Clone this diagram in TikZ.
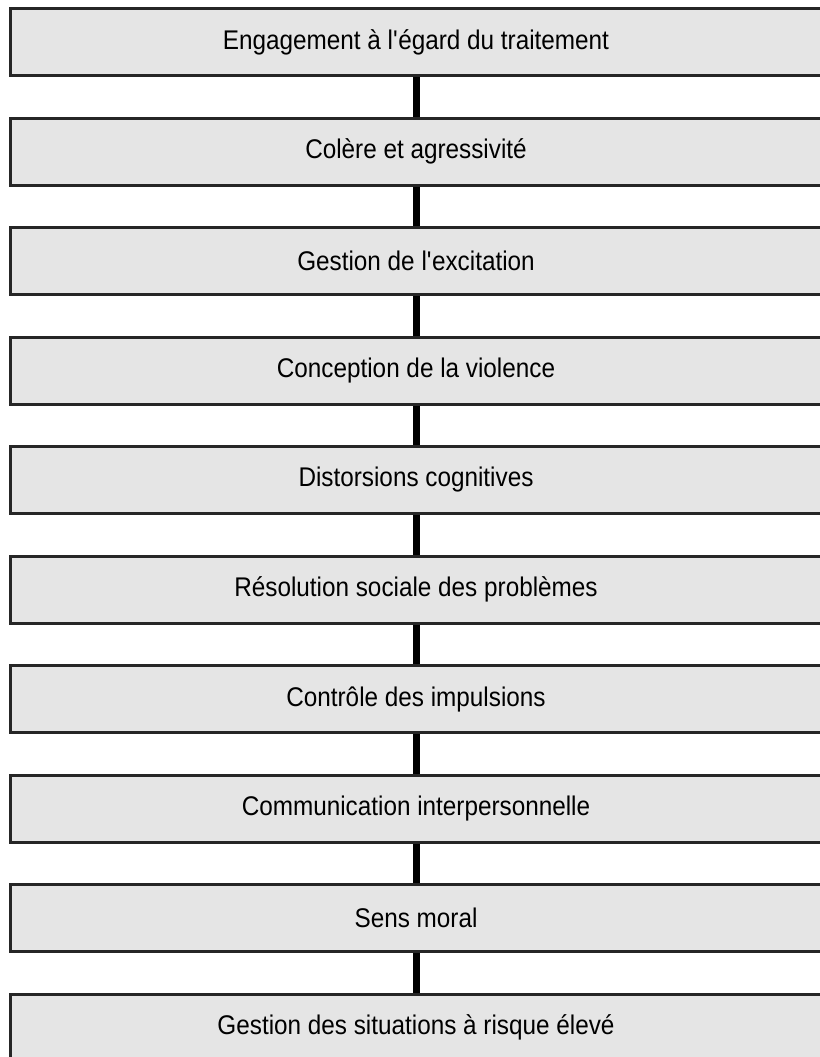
\documentclass[tikz,border=0pt]{standalone}
\usepackage{fontspec}
\setmainfont[FakeStretch=0.9]{Liberation Sans}
\usepackage{xcolor}
\usepackage{tikz}

\definecolor{boxgray}{RGB}{229,229,229}

\tikzset{
    module/.style={draw=black!85, fill=boxgray, line width=1.5pt, rectangle,
        minimum width=405.5pt, minimum height=33.5pt, inner sep=0pt,
        font=\fontsize{13.5}{15}\selectfont},
    link/.style={line width=3.5pt, black}
}

\begin{document}
\begin{tikzpicture}[x=0.5pt, y=-0.5pt]
    \useasboundingbox (0,0) rectangle (820,1057);
    \clip (0,0) rectangle (820,1057);

    % Modules
    \node[module] (engagement) at (416, 42) {Engagement à l\textquotesingle égard du traitement};
    \node[module] (colere) at (416, 151.5) {Colère et agressivité};
    \node[module] (excitation) at (416, 261) {Gestion de l\textquotesingle excitation};
    \node[module] (conception) at (416, 370.5) {Conception de la violence};
    \node[module] (distorsions) at (416, 480) {Distorsions cognitives};
    \node[module] (resolution) at (416, 589.5) {Résolution sociale des problèmes};
    \node[module] (controle) at (416, 699) {Contrôle des impulsions};
    \node[module] (communication) at (416, 808.5) {Communication interpersonnelle};
    \node[module] (moral) at (416, 918) {Sens moral};
    \node[module] (risque) at (416, 1027.5) {Gestion des situations à risque élevé};

    % Connections
    \draw[link] (engagement) -- (colere);
    \draw[link] (colere) -- (excitation);
    \draw[link] (excitation) -- (conception);
    \draw[link] (conception) -- (distorsions);
    \draw[link] (distorsions) -- (resolution);
    \draw[link] (resolution) -- (controle);
    \draw[link] (controle) -- (communication);
    \draw[link] (communication) -- (moral);
    \draw[link] (moral) -- (risque);
\end{tikzpicture}
\end{document}
